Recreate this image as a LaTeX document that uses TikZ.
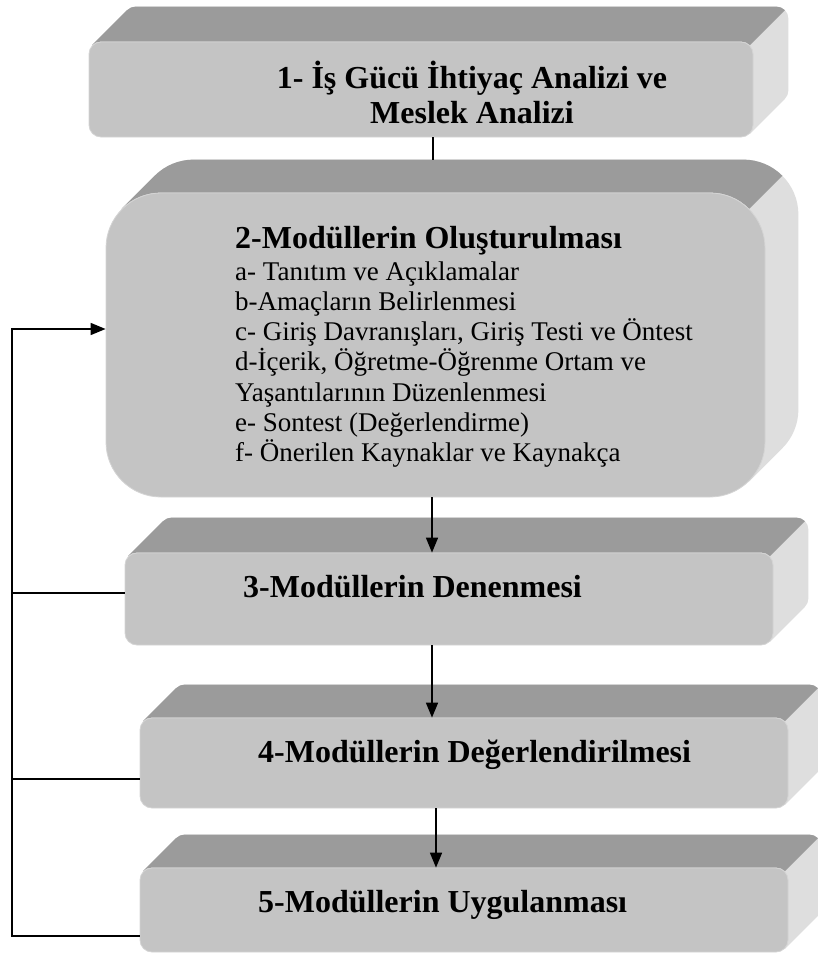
\documentclass[tikz,border=0pt]{standalone}
\usepackage{fontspec}
\setmainfont{Liberation Serif}
\usetikzlibrary{calc,arrows.meta,backgrounds}
\definecolor{frontcol}{HTML}{C4C4C4}
\definecolor{topcol}{HTML}{9B9B9B}
\definecolor{sidecol}{HTML}{DEDEDE}
\definecolor{edgecol}{HTML}{D4D4D4}
\newcommand\extrude[3]{%
\begin{pgfonlayer}{background}
\fill[sidecol] ($(#1.north west)+(#2pt,-#2pt)+(135:#2pt)$)
  -- ++(#3pt,#3pt) arc[start angle=135,end angle=90,radius=#2pt]
  -- ($(#1.north east)+(-#2pt+#3pt,#3pt)$) arc[start angle=90,end angle=0,radius=#2pt]
  -- ($(#1.south east)+(#3pt,#2pt+#3pt)$) arc[start angle=0,end angle=-45,radius=#2pt]
  -- ++(-#3pt,-#3pt) -- cycle;
\fill[topcol] ($(#1.north west)+(#2pt,-#2pt)+(135:#2pt)+(#3pt,#3pt)$)
  arc[start angle=135,end angle=90,radius=#2pt]
  -- ($(#1.north east)+(-#2pt+#3pt,#3pt)$) arc[start angle=90,end angle=45,radius=#2pt]
  -- ++(-#3pt,-#3pt) arc[start angle=45,end angle=90,radius=#2pt]
  -- ($(#1.north west)+(#2pt,0)$) arc[start angle=90,end angle=135,radius=#2pt]
  -- cycle;
\end{pgfonlayer}}
\begin{document}
\begin{tikzpicture}[x=1pt,y=1pt,
  front/.style={fill=frontcol,draw=edgecol,line width=0.8pt,inner sep=0pt},
  ttl/.style={font=\fontsize{32}{35}\selectfont\bfseries,inner sep=0pt},
  itm/.style={font=\fontsize{27}{30}\selectfont,inner sep=0pt,anchor=base west},
  conn/.style={line width=1.6pt,black,line join=miter},
  arr/.style={conn,-{Triangle[length=15pt,width=12pt]}}]
\useasboundingbox (0,0) rectangle (818,-956);

% boxes (front faces)
\node[front,minimum width=664pt,minimum height=95pt,rounded corners=12pt] (b1) at (421,-89.5) {};
\node[front,minimum width=659pt,minimum height=304pt,rounded corners=55pt] (b2) at (435.5,-345) {};
\node[front,minimum width=648pt,minimum height=92pt,rounded corners=12pt] (b3) at (449,-599) {};
\node[front,minimum width=648pt,minimum height=90pt,rounded corners=12pt] (b4) at (464,-763) {};
\node[front,minimum width=648pt,minimum height=84pt,rounded corners=12pt] (b5) at (464,-910) {};
\extrude{b1}{12}{35}
\extrude{b2}{55}{33}
\extrude{b3}{12}{35}
\extrude{b4}{12}{33}
\extrude{b5}{12}{33}

% texts
\node[ttl,anchor=base] (t1a) at (472,-88) {1- İş Gücü İhtiyaç Analizi ve};
\node[ttl,anchor=base] (t1b) at (472,-123) {Meslek Analizi};
\node[ttl,anchor=base west] (t2) at (235,-248) {2-Modüllerin Oluşturulması};
\node[itm] (i1) at (235,-280) {a- Tanıtım ve Açıklamalar};
\node[itm] (i2) at (235,-310.3) {b-Amaçların Belirlenmesi};
\node[itm] (i3) at (235,-340.6) {c- Giriş Davranışları, Giriş Testi ve Öntest};
\node[itm] (i4) at (235,-370.9) {d-İçerik, Öğretme-Öğrenme Ortam ve};
\node[itm] (i5) at (235,-401.2) {Yaşantılarının Düzenlenmesi};
\node[itm] (i6) at (235,-431.5) {e- Sontest (Değerlendirme)};
\node[itm] (i7) at (235,-461.8) {f- Önerilen Kaynaklar ve Kaynakça};
\node[ttl,anchor=base west] (t3) at (243,-597) {3-Modüllerin Denenmesi};
\node[ttl,anchor=base west] (t4) at (258,-762) {4-Modüllerin Değerlendirilmesi};
\node[ttl,anchor=base west] (t5) at (258,-912) {5-Modüllerin Uygulanması};

% connectors
\coordinate (top2) at (433,-160);
\coordinate (x23) at (432,0);
\coordinate (x45) at (436,0);
\draw[conn] (b1.south -| top2) -- (top2);
\draw[arr] (b2.south -| x23) -- (b3.north -| x23);
\draw[arr] (b3.south -| x23) -- (b4.north -| x23);
\draw[arr] (b4.south -| x45) -- (b5.north -| x45);

\coordinate (L2) at (12,-329);
\coordinate (L3) at (12,-593);
\coordinate (L4) at (12,-779);
\coordinate (L5) at (12,-936);
\draw[arr] (b5.west |- L5) -- (L5) -- (L2) -- (b2.west |- L2);
\draw[conn] (b3.west |- L3) -- (L3);
\draw[conn] (b4.west |- L4) -- (L4);
\end{tikzpicture}
\end{document}
